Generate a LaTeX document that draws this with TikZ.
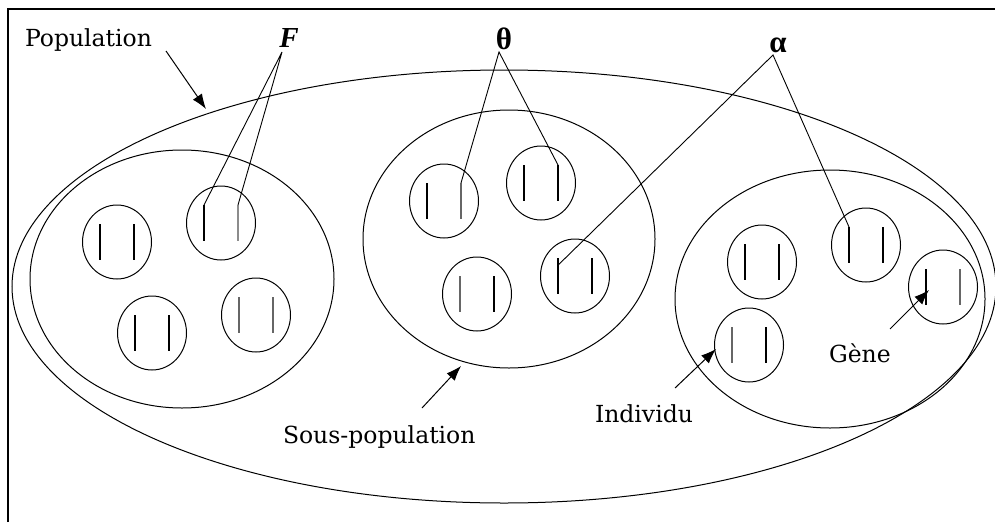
\documentclass[tikz,border=0pt]{standalone}
\usepackage{fontspec}
\setmainfont{DejaVu Serif}
\newfontfamily\symfont{Liberation Serif}
\usetikzlibrary{shapes.geometric,arrows.meta,calc}
\begin{document}
\begin{tikzpicture}[x=1pt,y=-1pt,
  every node/.style={inner sep=0pt, outer sep=0pt},
  ring/.style={draw, ellipse, line width=1pt},
  indiv/.style={draw, ellipse, line width=1pt, minimum width=69pt, minimum height=74pt},
  gene/.style={line width=1.1pt},
  lead/.style={line width=0.9pt},
  arr/.style={line width=1pt, -{Latex[length=15pt,width=11pt]}},
  lab/.style={font=\fontsize{23.5}{26}\selectfont, anchor=base west},
  sym/.style={font=\symfont\bfseries\fontsize{31}{33}\selectfont}]
\useasboundingbox (0,0) rectangle (995,522);
% frame
\draw[line width=1.6pt] (8,522) -- (8,9) -- (995,9);
% population and sub-populations
\node[ring, minimum width=984pt, minimum height=433pt] (pop) at (504,286.5) {};
\node[ring, minimum width=304pt, minimum height=258pt] (sp1) at (182,279) {};
\node[ring, minimum width=292pt, minimum height=258pt] (sp2) at (509,239) {};
\node[ring, minimum width=310pt, minimum height=258pt] (sp3) at (830,299) {};
% individuals with their genes
\foreach \n/\x/\y/\cl/\cr in {
  iA/117/242/black/black, iB/221/223/black/black!45, iC/152/333/black/black, iD/256/315/black!60/black!60,
  iE/444/201/black/black!60, iF/541/183/black/black, iG/477/294/black!60/black, iH/575/276/black/black,
  iI/762/262/black/black, iJ/866/245/black/black, iK/943/287/black/black!60, iL/749/345/black!60/black}{
  \node[indiv] (\n) at (\x,\y) {};
  \coordinate (\n-L) at (\x-17,\y-18);
  \coordinate (\n-l) at (\x-17,\y+18);
  \coordinate (\n-R) at (\x+17,\y-18);
  \coordinate (\n-r) at (\x+17,\y+18);
  \draw[gene, \cl] (\n-L) -- (\n-l);
  \draw[gene, \cr] (\n-R) -- (\n-r);
}
% labels
\node[lab] (tpop) at (25,46) {Population};
\node[lab] (tsous) at (283,443) {Sous-population};
\node[lab] (tind) at (595,422) {Individu};
\node[lab] (tgene) at (829,362) {Gène};
\node[font=\symfont\bfseries\itshape\fontsize{29}{31}\selectfont] (tF) at (289,38.5) {F};
\node[sym] (ttheta) at (504,38.5) {θ};
\node[sym] (talpha) at (778,45) {α};
% leader lines
\coordinate (aF) at (282,52);
\coordinate (aT) at (499,52);
\coordinate (aA) at (773,55);
\draw[lead] (iB-L) -- (aF) -- (iB-R);
\draw[lead] (iE-R) -- (aT) -- (iF-R);
\draw[lead] ($(iH-L)!0.2!(iH-l)$) -- (aA) -- (iJ-L);
% arrows
\coordinate (pS) at (166,51);  \coordinate (pT) at (206,109);
\coordinate (sS) at (422,408); \coordinate (sT) at (461,366);
\coordinate (dS) at (675,388); \coordinate (dT) at (716,349);
\coordinate (gS) at (890,329); \coordinate (gT) at (929,290);
\draw[arr] (pS) -- (pT);
\draw[arr] (sS) -- (sT);
\draw[arr] (dS) -- (dT);
\draw[arr] (gS) -- (gT);
\end{tikzpicture}
\end{document}
